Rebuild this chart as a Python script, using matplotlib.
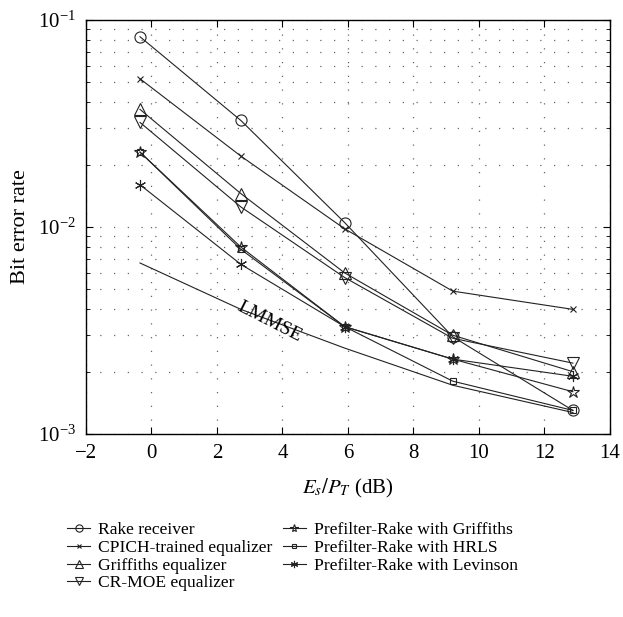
import matplotlib
matplotlib.use("Agg")
import matplotlib.pyplot as plt
from matplotlib.ticker import LogLocator, NullFormatter

plt.rcParams['font.family'] = ['Liberation Serif', 'DejaVu Serif']
plt.rcParams['mathtext.fontset'] = 'stix'

snr = [-0.35, 2.73, 5.9, 9.2, 12.87]

rake = [0.083, 0.0327, 0.0105, 0.00295, 0.0013]
cpich = [0.052, 0.022, 0.0098, 0.0049, 0.0040]
griffiths = [0.037, 0.0145, 0.0060, 0.0030, 0.0020]
crmoe = [0.032, 0.0125, 0.0057, 0.0029, 0.0022]
pre_griffiths = [0.023, 0.0080, 0.0033, 0.0023, 0.0016]
pre_hrls = [0.023, 0.0078, 0.0033, 0.0018, 0.0013]
pre_levinson = [0.016, 0.0066, 0.0033, 0.0023, 0.0019]
lmmse = [0.0067, 0.0040, 0.0026, 0.00172, 0.00127]

series = [
    ("Rake receiver", rake, 'o', 8),
    ("CPICH-trained equalizer", cpich, 'x', 5),
    ("Griffiths equalizer", griffiths, '^', 9),
    ("CR-MOE equalizer", crmoe, 'v', 9),
    ("Prefilter-Rake with Griffiths", pre_griffiths, '*', 9),
    ("Prefilter-Rake with HRLS", pre_hrls, 's', 5),
    ("Prefilter-Rake with Levinson", pre_levinson, (6, 2, 0), 8),
]

fig = plt.figure(figsize=(6.23, 6.17), dpi=100)
ax = fig.add_axes([0.138, 0.2966, 0.841, 0.671])

handles = []
for name, vals, mk, ms in series:
    h, = ax.semilogy(snr, vals, color='#222222', linewidth=0.8, marker=mk,
                     markersize=ms, markerfacecolor='none',
                     markeredgecolor='#222222', markeredgewidth=0.8, label=name)
    handles.append(h)

ax.semilogy(snr, lmmse, color='#222222', linewidth=0.8)
ax.text(3.6, 0.0035, "LMMSE", rotation=-27, fontsize=14, ha='center', va='center')

ax.set_xlim(-2, 14)
ax.set_ylim(1e-3, 1e-1)
ax.set_xticks([-2, 0, 2, 4, 6, 8, 10, 12, 14])
ax.set_xticklabels(['\u22122', '0', '2', '4', '6', '8', '10', '12', '14'])
ax.yaxis.set_major_locator(LogLocator(base=10, numticks=5))
ax.yaxis.set_minor_locator(LogLocator(base=10, subs=range(2, 10), numticks=20))
ax.yaxis.set_minor_formatter(NullFormatter())
ax.tick_params(direction='in', which='both', top=True, right=True, labelsize=15)
ax.tick_params(which='major', length=5)
ax.tick_params(which='minor', length=3)
ax.tick_params(axis='x', pad=7)
ax.tick_params(axis='y', pad=7)
ax.grid(True, which='major', linestyle=(0, (1, 10)), color='#666666', linewidth=0.9)
ax.grid(True, which='minor', axis='y', linestyle=(0, (1, 10)), color='#666666', linewidth=0.9)
for sp in ax.spines.values():
    sp.set_linewidth(1.0)

ax.set_xlabel('$E_s/P_T$ (dB)', fontsize=15, labelpad=10)
ax.set_ylabel('Bit error rate', fontsize=16, labelpad=6)

fig.legend(handles=handles, loc='upper left', bbox_to_anchor=(0.097, 0.165),
           ncol=2, frameon=False, fontsize=12.6, handlelength=1.3, markerscale=0.65,
           handletextpad=0.45, columnspacing=0.6, labelspacing=0.08,
           borderaxespad=0)

fig.savefig('out.png', dpi=100)
